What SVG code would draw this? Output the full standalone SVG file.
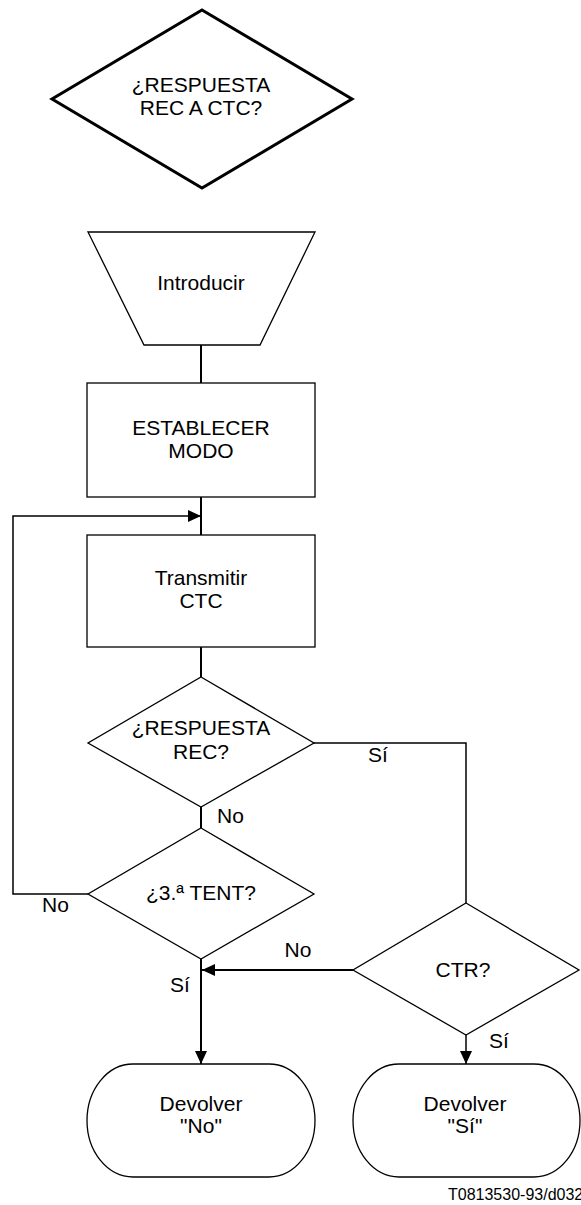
<svg xmlns="http://www.w3.org/2000/svg" width="581" height="1205" viewBox="0 0 581 1205">
<style>
.shape{fill:#fff;stroke:#000;stroke-width:1.3}
.thick{fill:#fff;stroke:#000;stroke-width:3}
.conn{fill:none;stroke:#000;stroke-width:1.5}
.main{fill:none;stroke:#000;stroke-width:2}
text{font-family:"Liberation Sans",Arial,sans-serif;font-size:21px;fill:#000}
.c{text-anchor:middle}
.foot{font-size:16px}
</style>
<defs>
<marker id="arr" markerWidth="13" markerHeight="12" refX="13" refY="6" orient="auto" markerUnits="userSpaceOnUse">
<path d="M0,0 L13,6 L0,12 Z" fill="#000"/>
</marker>
</defs>
<g id="connectors">
<path class="main" d="M201,345 V383"/>
<path class="main" d="M201,497 V535"/>
<path class="main" d="M201,647 V677"/>
<path class="main" d="M201,807 V828"/>
<path class="conn" d="M88,894 H13 V516 H201" marker-end="url(#arr)"/>
<path class="conn" d="M314,743 H466 V903"/>
<path class="main" d="M353,970 H202" marker-end="url(#arr)"/>
<path class="main" d="M201,959 V1064" marker-end="url(#arr)"/>
<path class="conn" d="M466,1035 V1064" marker-end="url(#arr)"/>
</g>
<g id="n-start">
<polygon class="thick" points="202,10 352,99 202,188 52,99"/>
<text class="c" x="201" y="92">¿RESPUESTA</text>
<text class="c" x="201" y="115">REC A CTC?</text>
</g>
<g id="n-introducir">
<polygon class="shape" points="88,232 315,232 260,345 144,345"/>
<text class="c" x="201" y="290">Introducir</text>
</g>
<g id="n-establecer">
<rect class="shape" x="87" y="383" width="228" height="114"/>
<text class="c" x="201" y="435">ESTABLECER</text>
<text class="c" x="201" y="458">MODO</text>
</g>
<g id="n-transmitir">
<rect class="shape" x="87" y="535" width="228" height="112"/>
<text class="c" x="201" y="585">Transmitir</text>
<text class="c" x="201" y="608">CTC</text>
</g>
<g id="n-respuesta">
<polygon class="shape" points="201,677 314,743 201,807 88,743"/>
<text class="c" x="201" y="735">¿RESPUESTA</text>
<text class="c" x="201" y="759">REC?</text>
</g>
<g id="n-tent">
<polygon class="shape" points="201,828 314,894 201,959 88,894"/>
<text class="c" x="201" y="900">¿3.ª TENT?</text>
</g>
<g id="n-ctr">
<polygon class="shape" points="466,903 579,970 466,1035 353,970"/>
<text class="c" x="463" y="977">CTR?</text>
</g>
<g id="n-devolver-no">
<path class="shape" d="M133,1064 H269 A46,56.5 0 0 1 269,1177 H133 A46,56.5 0 0 1 133,1064 Z"/>
<text class="c" x="201" y="1111">Devolver</text>
<text class="c" x="201" y="1133">"No"</text>
</g>
<g id="n-devolver-si">
<path class="shape" d="M399,1064 H534 A46,56.5 0 0 1 534,1177 H399 A46,56.5 0 0 1 399,1064 Z"/>
<text class="c" x="465" y="1111">Devolver</text>
<text class="c" x="465" y="1133">"Sí"</text>
</g>
<g id="labels">
<text x="217" y="823">No</text>
<text x="368" y="762">Sí</text>
<text x="42" y="912">No</text>
<text class="c" x="298" y="957">No</text>
<text class="c" x="180" y="992">Sí</text>
<text class="c" x="499" y="1048">Sí</text>
<text class="foot" x="448" y="1200">T0813530-93/d032</text>
</g>
</svg>
